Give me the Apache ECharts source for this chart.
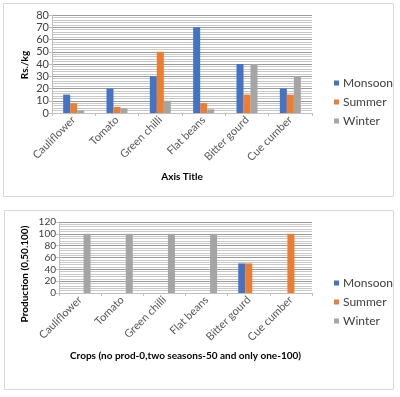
<!DOCTYPE html>
<html>
<head>
    <meta charset="utf-8">
    <title>ECharts</title>
    <script type="text/javascript" src="https://cdn.jsdelivr.net/npm/echarts@6/dist/echarts.min.js"></script>
    <style>
        body { margin: 0; background: #fff; }
    </style>
</head>
<body>
<div id="main" style="width: 400px;height:397px;"></div>
<script type="text/javascript">
    // data
    var crops = ['Cauliflower', 'Tomato', 'Green chilli', 'Flat beans', 'Bitter gourd', 'Cue cumber']
    var seasons = ['Monsoon', 'Summer', 'Winter']
    var colors = ['#4472C4', '#ED7D31', '#A5A5A5']

    // top chart: price Rs./kg
    var priceMonsoon = [15, 20, 30, 70, 40, 20]
    var priceSummer = [8, 5, 50, 8, 15, 15]
    var priceWinter = [2, 4, 10, 3, 40, 30]

    // bottom chart: production (0,50,100)
    var prodMonsoon = [0, 0, 0, 0, 50, 0]
    var prodSummer = [0, 0, 0, 0, 50, 100]
    var prodWinter = [100, 100, 100, 100, 0, 0]

    var font = 'Lato, "Liberation Sans", sans-serif'
    var myChart = echarts.init(document.getElementById('main'))

    function yAxis(idx, max, interval, size) {
        return {
            type: 'value',
            gridIndex: idx,
            min: 0,
            max: max,
            interval: interval,
            axisLine: {show: true, lineStyle: {color: '#bfbfbf'}},
            axisTick: {show: true, length: 3, lineStyle: {color: '#bfbfbf'}},
            axisLabel: {color: '#404040', fontSize: size, fontFamily: font, margin: 3},
            splitLine: {lineStyle: {color: '#9a9a9a', width: 1}},
            minorTick: {show: false, splitNumber: 5},
            minorSplitLine: {show: true, lineStyle: {color: '#c8c8c8', width: 1}}
        }
    }

    function xAxis(idx, name, gap) {
        return {
            type: 'category',
            gridIndex: idx,
            data: crops,
            name: name,
            nameLocation: 'middle',
            nameGap: gap,
            nameTextStyle: {color: '#000', fontSize: 10, fontWeight: 'bold', fontFamily: font},
            axisLine: {lineStyle: {color: '#bfbfbf'}},
            axisTick: {show: true, length: 3, lineStyle: {color: '#bfbfbf'}},
            axisLabel: {color: '#595959', fontSize: 11, fontFamily: font, rotate: 45, margin: 5, interval: 0}
        }
    }

    function bars(idx, values) {
        return values.map(function (v, i) {
            return {
                type: 'bar',
                name: seasons[i],
                xAxisIndex: idx,
                yAxisIndex: idx,
                data: v,
                barWidth: 7,
                barGap: '0%',
                itemStyle: {color: colors[i]},
                emphasis: {disabled: true}
            }
        })
    }

    function legend(top) {
        return {
            orient: 'vertical',
            left: 329,
            top: top,
            itemWidth: 5,
            itemHeight: 5,
            itemGap: 7,
            icon: 'rect',
            data: seasons,
            selectedMode: false,
            textStyle: {color: '#404040', fontSize: 12, fontFamily: font, padding: [0, 0, 0, -1]}
        }
    }

    var option = {
        animation: false,
        color: colors,
        grid: [
            {left: 52, top: 15, width: 260, height: 98},
            {left: 59, top: 222, width: 253, height: 71}
        ],
        xAxis: [
            xAxis(0, 'Axis Title', 59),
            xAxis(1, 'Crops (no prod-0,two seasons-50 and only one-100)', 58)
        ],
        yAxis: [
            yAxis(0, 80, 10, 11),
            yAxis(1, 120, 20, 10)
        ],
        legend: [legend(72), legend(272)],
        series: bars(0, [priceMonsoon, priceSummer, priceWinter])
            .concat(bars(1, [prodMonsoon, prodSummer, prodWinter])),
        graphic: [
            {type: 'rect', shape: {x: 3.5, y: 3.5, width: 390, height: 193},
                style: {fill: 'none', stroke: '#d9d9d9', lineWidth: 1}, silent: true},
            {type: 'rect', shape: {x: 4.5, y: 210.5, width: 389, height: 179},
                style: {fill: 'none', stroke: '#d9d9d9', lineWidth: 1}, silent: true},
            {type: 'text', x: 25, y: 65, rotation: Math.PI / 2,
                style: {text: 'Rs./kg', fill: '#000', font: 'bold 10px ' + font, align: 'center', verticalAlign: 'middle'}},
            {type: 'text', x: 25, y: 274, rotation: Math.PI / 2,
                style: {text: 'Production (0,50.100)', fill: '#000', font: 'bold 10px ' + font, align: 'center', verticalAlign: 'middle'}}
        ]
    }
    myChart.setOption(option)
</script>
</body>
</html>
